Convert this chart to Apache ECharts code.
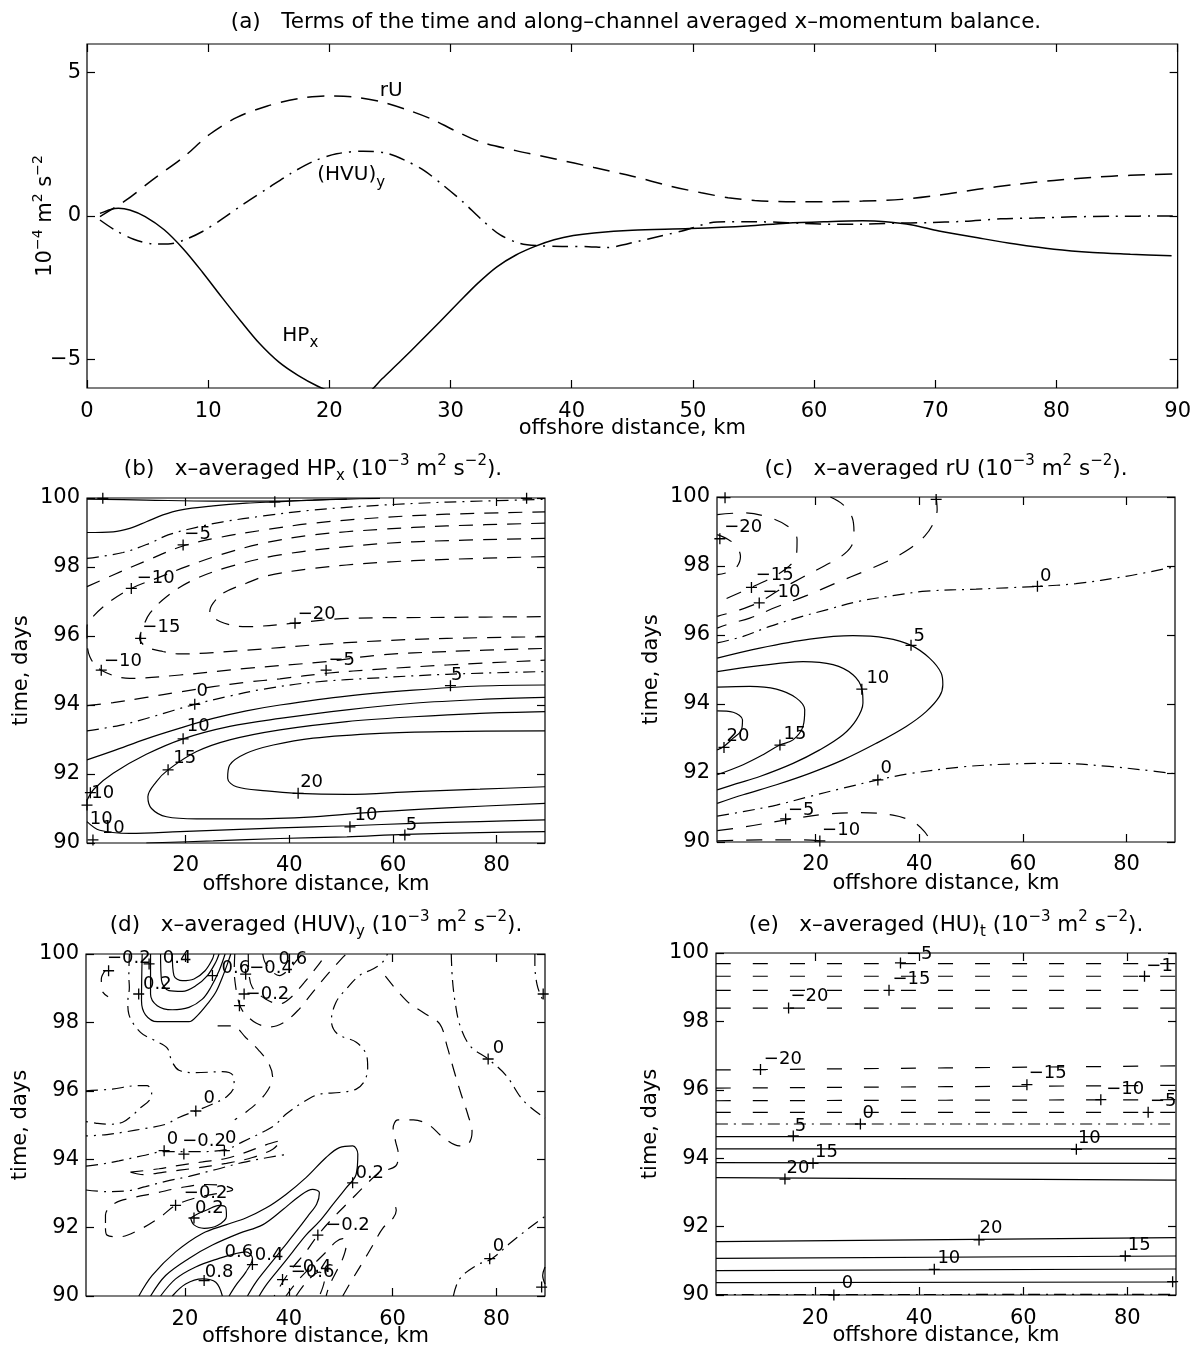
<!DOCTYPE html>
<html>
<head>
<meta charset="utf-8">
<script src="https://cdn.jsdelivr.net/npm/echarts@6/dist/echarts.min.js"></script>
<style>
  html, body { margin: 0; padding: 0; background: #fff; }
  #chart { width: 1194px; height: 1349px; }
</style>
</head>
<body>
<div id="chart"></div>
<script>
// ---------- (a) cross-channel profiles: [offshore km, 1e-4 m^2 s^-2] ----------
const rU = [[1.07,-0.02],[3.22,0.55],[5.43,1.27],[7.95,2.05],[10.16,2.86],[12.37,3.44],[14.89,3.84],[17.41,4.09],[19.62,4.19],[21.83,4.16],[24.04,4.01],[26.25,3.73],[28.45,3.38],[30.35,2.98],[32.56,2.57],[35.39,2.28],[38.55,2.0],[41.84,1.69],[45.0,1.39],[48.16,1.04],[50.7,0.81],[52.9,0.64],[55.1,0.54],[57.7,0.50],[60.8,0.50],[64.0,0.52],[67.2,0.58],[70.3,0.73],[73.5,0.93],[76.6,1.10],[79.8,1.24],[83.0,1.35],[86.1,1.42],[89.6,1.47]];
const hvuY = [[1.07,-0.14],[2.27,-0.48],[3.85,-0.81],[5.43,-0.97],[6.69,-0.98],[7.95,-0.85],[9.53,-0.54],[11.1,-0.12],[13.0,0.44],[14.9,0.96],[16.8,1.48],[18.7,1.91],[20.6,2.17],[22.8,2.26],[24.7,2.19],[26.25,1.94],[27.8,1.59],[29.4,1.07],[31.0,0.50],[32.6,-0.14],[34.1,-0.66],[35.7,-0.95],[37.3,-1.04],[39.2,-1.06],[41.4,-1.07],[42.8,-1.10],[45.6,-0.87],[49.1,-0.52],[52.0,-0.21],[55.1,-0.20],[60.5,-0.28],[63.7,-0.29],[66.5,-0.25],[69.4,-0.23],[72.2,-0.19],[75.4,-0.10],[78.2,-0.07],[81.4,-0.03],[84.6,-0.01],[89.6,0.0]];
const hpX = [[1.07,0.09],[1.96,0.23],[2.59,0.27],[3.53,0.21],[4.8,-0.02],[6.37,-0.48],[7.95,-1.15],[9.53,-1.96],[11.1,-2.82],[12.68,-3.66],[14.26,-4.46],[15.84,-5.10],[17.41,-5.56],[19.0,-5.93],[20.25,-6.14],[21.83,-6.31],[23.1,-6.2],[24.35,-5.68],[25.9,-5.05],[27.5,-4.38],[29.1,-3.70],[30.66,-3.02],[32.24,-2.35],[33.8,-1.78],[35.4,-1.36],[36.97,-1.06],[38.55,-0.83],[40.13,-0.68],[41.84,-0.59],[45.0,-0.50],[49.75,-0.44],[54.5,-0.35],[57.7,-0.25],[60.8,-0.20],[64.0,-0.17],[65.9,-0.20],[68.1,-0.31],[70.3,-0.52],[73.5,-0.76],[76.6,-0.98],[79.8,-1.16],[83.0,-1.27],[86.1,-1.33],[89.5,-1.39]];
const curveNames = [['{b|rU}', 25.1, 4.36], ['{b|(HVU)}{s|y}', 21.8, 1.42], ['{b|HP}{s|x}', 17.6, -4.18]];

// ---------- (b) x-averaged HPx, contours [level, [[km, day], ...]] ----------
const hpxContours = [
  [10, [[0.95,99.97],[12.4,99.94],[25.3,99.91],[37.2,99.91],[44.6,99.94],[51.1,99.97]]],
  [5, [[0.95,99.0],[6.0,99.02],[9.2,99.12],[12.4,99.31],[15.6,99.51],[18.9,99.65],[25.3,99.77],[31.7,99.85],[37.5,99.89],[44.6,99.94],[51.1,99.97],[57.5,99.99]]],
  [0, [[0.95,98.25],[7.9,98.42],[13.1,98.69],[16.6,98.93],[22.1,99.15],[27.2,99.31],[35.0,99.48],[44.6,99.65],[57.5,99.79],[70.4,99.88],[89.35,99.96]]],
  [-5, [[0.95,97.43],[6.0,97.77],[12.4,98.18],[19.5,98.61],[26.6,98.86],[35.0,99.07],[44.6,99.27],[57.5,99.43],[70.4,99.53],[89.35,99.60]]],
  [-10, [[89.35,99.27],[70.4,99.19],[57.5,99.09],[44.6,98.93],[35.0,98.69],[26.6,98.35],[20.1,98.01],[14.35,97.67],[9.5,97.38],[5.3,96.99],[2.1,96.56],[0.95,96.27],[0.95,95.93],[1.5,95.40],[3.7,95.01],[9.2,94.77],[18.9,94.87],[31.7,95.06],[47.2,95.26],[57.5,95.45],[70.4,95.55],[89.35,95.64]]],
  [-15, [[89.35,98.83],[63.9,98.73],[51.1,98.59],[38.2,98.35],[28.5,98.01],[21.4,97.62],[16.3,97.14],[13.1,96.66],[11.8,96.27],[11.1,95.93],[12.4,95.69],[15.6,95.55],[18.9,95.48],[31.7,95.59],[44.6,95.74],[57.5,95.86],[70.4,95.93],[89.35,95.98]]],
  [-20, [[89.35,98.30],[70.4,98.22],[57.5,98.13],[44.6,97.96],[35.6,97.74],[31.7,97.53],[27.2,97.24],[25.3,96.95],[24.65,96.71],[26.6,96.42],[31.7,96.27],[40.75,96.37],[51.1,96.51],[70.4,96.54],[89.35,96.56]]],
  [-5, [[0.95,93.98],[6.0,94.07],[12.4,94.22],[18.9,94.38],[25.3,94.53],[31.7,94.66],[38.2,94.76],[47.2,94.92],[57.5,95.04],[70.4,95.16],[89.35,95.30]]],
  [0, [[0.95,93.25],[7.3,93.41],[12.4,93.61],[17.6,93.84],[21.75,94.02],[28.5,94.26],[35.0,94.46],[44.6,94.66],[57.5,94.79],[70.4,94.89],[89.35,94.97]]],
  [5, [[0.95,92.41],[6.0,92.67],[12.4,93.02],[18.9,93.33],[25.3,93.61],[31.7,93.83],[38.2,94.0],[51.1,94.26],[63.9,94.43],[76.8,94.55],[89.35,94.58]]],
  [10, [[0.95,91.24],[2.4,91.58],[6.0,92.02],[12.4,92.57],[19.5,93.02],[28.5,93.38],[38.2,93.61],[51.1,93.86],[63.9,94.05],[76.8,94.16],[89.35,94.22]]],
  [15, [[89.35,93.81],[76.8,93.76],[63.9,93.66],[51.1,93.52],[38.2,93.28],[28.5,92.99],[22.1,92.65],[16.6,92.12],[14.35,91.78],[12.7,91.34],[13.4,91.0],[16.3,90.76],[22.1,90.70],[31.7,90.70],[44.6,90.76],[57.5,90.91],[70.4,91.02],[89.35,91.15]]],
  [20, [[89.35,93.25],[70.4,93.23],[57.5,93.18],[44.6,93.04],[36.9,92.84],[31.7,92.60],[28.5,92.26],[28.1,91.88],[29.8,91.63],[35.6,91.51],[41.4,91.44],[51.1,91.41],[63.9,91.49],[76.8,91.56],[89.35,91.63]]],
  [10, [[0.95,90.62],[3.4,90.37],[9.2,90.28],[18.9,90.33],[31.7,90.40],[44.6,90.47],[51.7,90.50],[63.9,90.57],[76.8,90.62],[89.35,90.67]]],
  [5, [[12.4,90.0],[25.3,90.06],[38.2,90.13],[51.1,90.18],[62.3,90.25],[76.8,90.30],[89.35,90.33]]]
];
const hpxText = [['−5',22.3,98.95],['−10',14.2,97.67],['−15',15.3,96.25],['−20',45.3,96.64],['−10',7.9,95.26],['−5',50.1,95.30],['0',23.2,94.39],['5',72.3,94.87],['10',22.4,93.37],['15',19.8,92.45],['20',44.3,91.76],['10',54.8,90.79],['5',63.6,90.52],['10',4.0,91.44],['10',3.7,90.70],['10',6.0,90.42]];
const hpxMarks = [[19.5,98.64],[9.5,97.38],[11.3,95.93],[41.1,96.37],[3.7,95.01],[47.1,95.01],[4.0,99.99],[37.2,99.89],[85.8,99.99],[21.75,94.02],[71.1,94.56],[19.5,93.02],[16.6,92.12],[41.7,91.44],[51.7,90.47],[62.3,90.23],[1.6,91.46],[0.95,91.1],[2.1,90.09]];

// ---------- (c) x-averaged rU ----------
const ruContours = [
  [-20, [[0.99,98.91],[3.11,98.77],[4.71,98.57],[5.48,98.28],[4.84,97.99],[3.11,97.82],[0.99,97.75]]],
  [-15, [[0.99,99.49],[6.0,99.54],[11.14,99.40],[14.99,99.11],[16.40,98.77],[16.27,98.28],[14.67,97.97],[11.78,97.68],[7.60,97.38],[3.43,97.10],[0.99,96.93]]],
  [-10, [[22.83,100.0],[25.27,99.78],[27.06,99.40],[27.39,98.96],[26.87,98.57],[24.94,98.28],[21.73,98.01],[17.56,97.68],[13.06,97.31],[9.08,96.95],[5.36,96.73],[0.99,96.54]]],
  [-5, [[43.25,100.0],[43.44,99.64],[42.74,99.25],[41.0,98.86],[38.11,98.50],[34.26,98.17],[29.44,97.85],[23.98,97.51],[18.2,97.14],[12.42,96.81],[7.28,96.49],[3.43,96.33],[0.99,96.20]]],
  [0, [[0.99,95.77],[6.0,95.96],[11.14,96.25],[16.27,96.49],[22.06,96.73],[28.48,96.98],[34.9,97.14],[41.32,97.27],[50.96,97.33],[62.84,97.41],[70.23,97.49],[79.86,97.70],[89.35,97.98]]],
  [5, [[0.99,95.33],[9.21,95.62],[18.84,95.88],[27.19,95.98],[33.62,95.91],[38.43,95.70],[41.97,95.33],[44.21,94.90],[44.54,94.56],[43.89,94.22],[41.32,93.78],[37.47,93.35],[31.69,92.86],[25.27,92.38],[18.84,91.99],[12.42,91.66],[6.0,91.37],[0.99,91.12]]],
  [10, [[0.99,94.94],[9.21,95.11],[17.56,95.23],[23.34,95.14],[27.19,94.85],[28.93,94.43],[29.12,94.03],[27.84,93.54],[25.27,93.11],[20.77,92.67],[15.63,92.28],[9.21,91.90],[4.71,91.69],[0.99,91.51]]],
  [15, [[0.99,94.49],[7.28,94.51],[12.42,94.43],[16.27,94.17],[17.88,93.83],[17.56,93.35],[15.63,92.96],[13.06,92.81],[9.85,92.53],[6.0,92.24],[0.99,91.95]]],
  [20, [[0.99,93.80],[4.07,93.76],[5.87,93.54],[5.68,93.25],[4.07,93.01],[2.27,92.77],[0.99,92.67]]],
  [0, [[0.99,90.75],[6.0,90.88],[12.42,91.07],[18.84,91.32],[25.27,91.56],[32.01,91.80],[38.11,91.98],[47.75,92.17],[57.38,92.26],[67.01,92.28],[76.65,92.19],[83.07,92.09],[89.35,91.98]]],
  [-5, [[0.99,90.33],[6.0,90.43],[14.22,90.64],[22.06,90.81],[28.48,90.85],[34.9,90.78],[38.75,90.59],[41.0,90.30],[42.29,90.0]]],
  [-10, [[0.99,90.03],[9.21,90.06],[17.56,90.06],[20.77,90.03]]]
];
const ruText = [['−20',6.0,99.11],['−15',12.1,97.72],['−10',13.4,97.24],['0',64.4,97.70],['5',40.0,95.96],['10',32.0,94.75],['15',16.0,93.11],['20',5.0,93.06],['0',33.6,92.14],['−5',17.2,90.93],['−10',24.9,90.35]];
const ruMarks = [[1.5,98.79],[7.6,97.38],[9.1,96.93],[62.8,97.41],[38.4,95.70],[28.9,94.43],[13.1,92.81],[2.3,92.74],[32.0,91.80],[14.2,90.67],[20.8,90.03],[43.25,99.93],[2.5,99.98]];

// ---------- (d) x-averaged (HUV)y ----------
const huvContours = [
  [0.2, [[11.77,100.0],[11.64,98.63],[12.41,98.22],[14.67,98.02],[20.78,98.02],[22.4,98.20],[24.33,98.54],[25.94,98.88],[27.22,99.32],[28.19,99.71],[28.83,100.0]]],
  [0.4, [[13.38,100],[13.38,98.83],[14.67,98.49],[17.57,98.37],[20.78,98.44],[23.36,98.68],[24.97,99.02],[26.58,99.51],[27.74,100.0]]],
  [0.6, [[15.31,100],[15.5,99.22],[16.92,98.93],[19.5,98.91],[22.07,99.07],[24.33,99.37],[25.94,99.76],[26.58,100]]],
  [0.8, [[17.57,100],[17.89,99.37],[19.5,99.22],[21.75,99.27],[23.88,99.51],[25.3,99.85],[25.6,100]]],
  [-0.2, [[4.7,99.53],[3.9,99.27],[4.04,98.93],[5.2,98.75]]],
  [0, [[9.3,100],[9.2,99.34],[9.3,99.02],[9.0,98.6],[9.2,98.24],[11.45,97.71],[14.35,97.46],[16.6,97.25],[17.44,96.88],[18.85,96.6],[22.07,96.53],[27.22,96.56],[29.3,96.44],[29.48,96.15],[28.19,95.85],[25.6,95.63],[22.07,95.41],[18.85,95.22],[16.28,95.02],[12.4,94.9],[8.55,94.8],[5.0,94.72],[0.95,94.68]]],
  [0, [[0.95,96.0],[6.0,96.05],[10.8,96.15],[12.7,96.15],[13.6,95.95],[13.1,95.71],[11.5,95.51],[9.8,95.27],[8.0,95.08],[5.5,95.02],[3.0,95.05],[0.95,95.1]]],
  [-0.2, [[26.3,97.9],[29.2,97.9],[31.7,97.56],[34.3,97.17],[36.2,96.78],[36.9,96.39],[35.9,96.0],[34.0,95.66],[31.7,95.37],[29.6,95.15]]],
  [-0.2, [[29.6,100],[29.5,99.5],[29.8,99.02],[30.3,98.63],[31.1,98.34],[33.7,97.98],[36.6,97.87],[39.1,98.0],[41.7,98.34],[44.6,98.88],[47.5,99.41],[50.4,99.9],[51.1,100]]],
  [-0.4, [[32.2,100],[32.3,99.5],[33,99.02],[35.6,98.68],[38.2,98.54],[40.4,98.73],[43,99.17],[45.6,99.66],[47.2,100]]],
  [-0.6, [[35.0,100],[35.6,99.71],[38.2,99.37],[40.1,99.56],[42.0,99.9],[42.7,100]]],
  [0, [[0.95,93.8],[3.7,93.85],[7.3,93.95],[11.8,94.1],[16,94.22],[22,94.22],[27.6,94.27],[31,94.5],[35.6,94.84],[37.5,95.02],[39.5,95.32],[42.7,95.66],[45.9,95.9],[49.8,95.95],[53,96.05],[54.6,96.29],[55.2,96.68],[54.9,97.07],[53,97.42],[49.4,97.66],[48.2,98.05],[49.1,98.59],[51.1,98.98],[53.6,99.37],[56.2,99.56],[58,99.75],[59,100]]],
  [-0.2, [[58.6,99.35],[62.7,98.63],[65.9,98.29],[69.1,97.95],[70.5,97.3],[71.8,96.6],[73.2,95.9],[74.5,95.3],[75.3,94.8],[74.6,94.45],[72.9,94.39],[69.7,94.64],[67,95.0],[64,95.15],[61,95.15],[60.1,94.9],[60.6,94.5],[61.1,94.15],[60.6,93.8],[57.5,93.61],[54.9,93.26],[51.7,92.77],[48.5,92.28],[45.6,91.78],[43.3,91.29],[40.1,90.7],[37.2,90.0]]],
  [0, [[71.3,100],[71.5,99.3],[72,98.63],[73,97.9],[75,97.3],[78.4,96.93],[81.9,96.44],[85.2,95.71],[89.35,95.2]]],
  [0, [[87.4,100],[87.4,99.71],[87.8,99.12],[88.7,98.73],[89.35,98.59]]],
  [0.2, [[11.13,90.0],[13.7,90.6],[18.21,91.29],[23.36,91.83],[27.87,92.08],[31.73,92.28],[35.6,92.57],[39.46,92.97],[43.32,93.46],[47.18,94.05],[49.76,94.34],[52.33,94.39],[53.3,94.15],[52.98,93.56],[51.05,93.16],[48.47,92.67],[45.9,92.18],[43.32,91.78],[40.75,91.29],[38.17,90.80],[35.6,90.31],[34.3,90.0]]],
  [0.4, [[13.39,90.0],[16.28,90.6],[20.78,91.1],[25.3,91.49],[30.44,91.83],[34.95,92.08],[38.82,92.52],[42.04,92.92],[44.61,93.12],[45.9,93.02],[45.38,92.69],[43.65,92.33],[41.39,91.88],[38.82,91.39],[36.24,90.9],[33.66,90.4],[32.05,90.0]]],
  [0.6, [[15.31,90.0],[18.21,90.5],[22.07,90.85],[26.58,91.1],[29.8,91.24],[31.73,91.29],[33.02,91.1],[31.73,90.7],[29.8,90.31],[28.51,90.0]]],
  [0.8, [[17.57,90.0],[20.14,90.35],[23.36,90.5],[25.94,90.4],[27.22,90.0]]],
  [0.2, [[21.1,92.28],[21.75,92.08],[23.7,91.98],[26.26,92.06],[28.0,92.33],[27.87,92.59],[26.58,92.65],[24.33,92.52],[22.07,92.37],[21.1,92.28]]],
  [-0.4, [[39.46,90.0],[42.04,90.5],[44.61,90.9],[47.2,91.29],[49.12,91.59],[50.41,91.68],[51.05,91.49],[50.41,91.1],[49.12,90.7],[47.84,90.31],[47.2,90.0]]],
  [-0.6, [[41.4,90.0],[43.65,90.45],[45.9,90.7],[46.9,90.5],[45.9,90.0]]],
  [-0.2, [[50.4,90.0],[52.3,90.5],[54.3,91.0],[56.2,91.49],[58.1,91.98],[60.1,92.28],[60.7,92.5],[60.2,92.75]]],
  [-0.2, [[4.7,91.98],[5.0,91.78],[7.3,91.73],[11.1,91.93],[15.0,92.28],[18.2,92.65],[22.1,92.87],[26.6,93.01],[29.2,93.11],[27.9,93.21],[24.0,93.26],[18.9,93.16],[14.4,93.01],[9.84,92.87],[6.6,92.72],[4.7,92.37],[4.7,91.98]]],
  [-0.2, [[9.5,93.62],[15,93.72],[18.9,93.82],[23.4,93.92],[27.9,94.02],[31.7,94.2],[35.6,94.42],[38.5,94.55],[37,94.3],[33,94.05],[28,93.88],[22,93.74],[16,93.62],[12,93.55],[9.5,93.62]]],
  [0, [[0.95,93.1],[5,93.05],[9.2,93.08],[12.4,93.2],[16.3,93.35],[20.8,93.5],[26,93.7],[31,93.9],[36,94.05],[40,94.15]]],
  [0, [[71.7,90.0],[72.9,90.5],[76.2,90.9],[79.1,91.09],[82.6,91.54],[85.8,91.93],[89.35,92.33]]],
  [0.2, [[89.35,90.85],[88.9,90.6],[89.35,90.35]]]
];
const huvText = [['−0.2',9.2,99.88],['0.4',18.5,99.88],['0.6',29.8,99.59],['−0.4',36.6,99.59],['0.6',40.8,99.85],['0.2',14.7,99.10],['−0.2',35.9,98.83],['0',24.7,95.79],['0',80.4,97.25],['0',17.6,94.59],['−0.2',23.7,94.52],['0',28.8,94.62],['0.2',55.6,93.6],['−0.2',24.0,92.99],['0.2',24.7,92.57],['−0.2',51.4,92.08],['0.6',30.4,91.29],['0.4',36.2,91.19],['−0.4',44.0,90.85],['−0.6',44.6,90.68],['0.8',26.6,90.70],['0',80.4,91.44]];
const huvMarks = [[5.3,99.51],[13.1,99.71],[25.3,99.37],[31.7,99.41],[11.1,98.83],[31.4,98.83],[30.5,98.49],[22.1,95.41],[78.4,96.93],[89.0,98.83],[16.0,94.25],[19.8,94.15],[27.6,94.25],[52.3,93.31],[18.2,92.65],[21.75,92.28],[45.6,91.78],[33.0,90.92],[38.8,90.48],[23.7,90.45],[78.7,91.09],[88.7,90.26]];

// ---------- (e) x-averaged (HU)t ----------
const hutContours = [
  [-5, [[0.95,99.69],[89.35,99.69]]],
  [-10, [[0.95,99.32],[89.35,99.32]]],
  [-15, [[0.95,98.91],[89.35,98.91]]],
  [-20, [[0.95,98.39],[89.35,98.39]]],
  [-20, [[0.95,96.58],[89.35,96.70]]],
  [-15, [[0.95,96.05],[89.35,96.13]]],
  [-10, [[0.95,95.68],[89.35,95.71]]],
  [-5, [[0.95,95.34],[89.35,95.34]]],
  [0, [[0.95,95.0],[89.35,95.0]]],
  [5, [[0.95,94.63],[89.35,94.63]]],
  [10, [[0.95,94.27],[89.35,94.27]]],
  [15, [[0.95,93.87],[89.35,93.85]]],
  [20, [[0.95,93.43],[89.35,93.36]]],
  [20, [[0.95,91.56],[89.35,91.68]]],
  [15, [[0.95,91.07],[89.35,91.14]]],
  [10, [[0.95,90.71],[89.35,90.76]]],
  [5, [[0.95,90.36],[89.35,90.38]]],
  [0, [[0.95,90.01],[89.35,90.02]]]
];
const hutText = [['−5',40.0,99.95],['−15',38.5,99.22],['−20',18.9,98.73],['−1',86.2,99.61],['−20',13.8,96.88],['−15',64.7,96.47],['−10',79.6,96.02],['−5',86.9,95.66],['0',30.2,95.32],['5',17.2,94.93],['10',72.7,94.59],['15',22.2,94.18],['20',16.7,93.71],['20',53.8,91.95],['15',82.3,91.46],['10',45.7,91.07],['0',26.2,90.34]];
const hutMarks = [[36.4,99.71],[34.2,98.91],[14.9,98.39],[83.3,99.32],[9.5,96.59],[60.7,96.15],[74.9,95.71],[84.0,95.34],[28.7,95.0],[15.8,94.65],[70.2,94.26],[19.6,93.85],[14.2,93.39],[51.5,91.61],[79.6,91.14],[42.9,90.75],[88.7,90.39],[23.6,90.0]];

// ---------- axis ticks ----------
const valTicksA = [-5, 0, 5];
const kmTicks = [20, 40, 60, 80];

// ---------- drawing ----------
const FONT = 'DejaVu Sans';
const INK = '#000';
const DASHDOT = [12, 6, 2, 6];

const grids = [
  { left: 87, top: 44, width: 1091, height: 344 },
  { left: 87, top: 498, width: 458, height: 345 },
  { left: 717, top: 497, width: 458, height: 345 },
  { left: 86, top: 954, width: 459, height: 342 },
  { left: 716, top: 953, width: 460, height: 342 }
];

const supRich = {
  t: { fontSize: 21, fontFamily: FONT, color: INK, lineHeight: 30 },
  sup: { fontSize: 14, fontFamily: FONT, color: INK, lineHeight: 14, verticalAlign: 'top' },
  sub: { fontSize: 14, fontFamily: FONT, color: INK, lineHeight: 14, verticalAlign: 'bottom' }
};

const xAxes = [], yAxes = [];
const minus = v => String(v).replace('-', '−');

function addAxes(gi, xr, yr) {
  const tick = { show: true, inside: true, length: 8, lineStyle: { color: INK, width: 1.2 } };
  const lbl = { color: INK, fontFamily: FONT, fontSize: 21, formatter: minus };
  const line = { show: false, onZero: false };
  const xBase = { type: 'value', gridIndex: gi, min: xr.min, max: xr.max, axisLine: line, splitLine: { show: false } };
  if (xr.interval) xBase.interval = xr.interval;
  const yBase = { type: 'value', gridIndex: gi, min: yr.min, max: yr.max, axisLine: line, splitLine: { show: false } };
  if (yr.interval) yBase.interval = yr.interval;
  const xTick = Object.assign({}, tick, xr.ticks ? { customValues: xr.ticks } : {});
  const yTick = Object.assign({}, tick, yr.ticks ? { customValues: yr.ticks } : {});
  xAxes.push(Object.assign({}, xBase, {
    position: 'bottom', axisTick: xTick,
    axisLabel: Object.assign({}, lbl, { margin: xr.margin }, xr.ticks ? { customValues: xr.ticks } : {}),
    name: 'offshore distance, km', nameLocation: 'middle', nameGap: xr.gap, nameMoveOverlap: false,
    nameTextStyle: { color: INK, fontFamily: FONT, fontSize: 21 }
  }));
  xAxes.push(Object.assign({}, xBase, { position: 'top', axisTick: xTick, axisLabel: { show: false } }));
  yAxes.push(Object.assign({}, yBase, {
    position: 'left', axisTick: yTick,
    axisLabel: Object.assign({}, lbl, { margin: yr.margin }, yr.ticks ? { customValues: yr.ticks } : {}),
    name: yr.name, nameLocation: 'middle', nameGap: yr.gap, nameRotate: 90, nameMoveOverlap: false,
    nameTextStyle: { color: INK, fontFamily: FONT, fontSize: 21, rich: supRich }
  }));
  yAxes.push(Object.assign({}, yBase, { position: 'right', axisTick: yTick, axisLabel: { show: false } }));
}

addAxes(0, { min: 0, max: 90, interval: 10, margin: 13, gap: 30 },
           { min: -6, max: 6, ticks: valTicksA, margin: 6, gap: 26,
             name: '{t|10}{sup|−4}{t| m}{sup|2}{t| s}{sup|−2}' });
const kmRange = { min: 0.95, max: 89.35, ticks: kmTicks };
const dayRange = { min: 90, max: 100, interval: 2, margin: 7, gap: 55, name: 'time, days' };
addAxes(1, Object.assign({ gap: 31, margin: 12 }, kmRange), dayRange);
addAxes(2, Object.assign({ gap: 31, margin: 12 }, kmRange), dayRange);
addAxes(3, Object.assign({ gap: 30, margin: 13 }, kmRange), dayRange);
addAxes(4, Object.assign({ gap: 30, margin: 13 }, kmRange), dayRange);

const series = [];

function profile(data, type) {
  series.push({
    type: 'line', xAxisIndex: 0, yAxisIndex: 0, data, symbol: 'none', smooth: 0.3,
    silent: true, animation: false, clip: true,
    lineStyle: { color: INK, width: 1.5, type, cap: 'butt' }
  });
}
profile(rU, [17, 10]);
profile(hvuY, [16, 7, 2, 7]);
profile(hpX, 'solid');
series.push({
  type: 'scatter', xAxisIndex: 0, yAxisIndex: 0, symbolSize: 1, silent: true, animation: false,
  itemStyle: { color: 'rgba(0,0,0,0)', opacity: 1 },
  data: curveNames.map(c => ({ name: c[0], value: [c[1], c[2]] })),
  label: { show: true, position: 'inside', formatter: '{b}', color: INK, opacity: 1, textBorderWidth: 0,
    rich: { b: { fontSize: 20, fontFamily: FONT, color: INK, lineHeight: 30 },
            s: { fontSize: 15, fontFamily: FONT, color: INK, lineHeight: 15, verticalAlign: 'bottom' } } }
});

function contours(list, gi, dash) {
  list.forEach(([v, pts]) => {
    series.push({
      type: 'line', xAxisIndex: gi * 2, yAxisIndex: gi * 2, data: pts, symbol: 'none',
      smooth: 0.35, silent: true, animation: false, clip: true,
      lineStyle: { color: INK, width: 1.2, cap: 'butt', type: v < 0 ? dash : (v === 0 ? DASHDOT : 'solid') }
    });
  });
}
function contourLabels(texts, marks, gi) {
  series.push({
    type: 'scatter', xAxisIndex: gi * 2, yAxisIndex: gi * 2, silent: true, animation: false,
    symbol: 'path://M0,5L10,5M5,0L5,10', symbolSize: 11,
    itemStyle: { color: 'rgba(0,0,0,0)', borderColor: INK, borderWidth: 1.3, opacity: 1 },
    data: marks
  });
  series.push({
    type: 'scatter', xAxisIndex: gi * 2, yAxisIndex: gi * 2, silent: true, animation: false,
    symbolSize: 1, itemStyle: { color: 'rgba(0,0,0,0)', opacity: 1 },
    data: texts.map(t => ({ name: t[0], value: [t[1], t[2]] })),
    label: { show: true, position: 'inside', formatter: '{b}', color: INK, opacity: 1, textBorderWidth: 0,
             fontFamily: FONT, fontSize: 18 },
    labelLayout: { hideOverlap: false }
  });
}

contours(hpxContours, 1, [14, 10]);
contourLabels(hpxText, hpxMarks, 1);
contours(ruContours, 2, [16, 13]);
contourLabels(ruText, ruMarks, 2);
contours(huvContours, 3, [13, 10]);
contourLabels(huvText, huvMarks, 3);
contours(hutContours, 4, [15, 22]);
contourLabels(hutText, hutMarks, 4);

const titleRich = {
  t: { fontSize: 21.5, fontFamily: FONT, fill: INK, lineHeight: 30 },
  sup: { fontSize: 15, fontFamily: FONT, fill: INK, lineHeight: 14, verticalAlign: 'top' },
  sub: { fontSize: 15, fontFamily: FONT, fill: INK, lineHeight: 14, verticalAlign: 'bottom' }
};
const unit = '{t| (10}{sup|−3}{t| m}{sup|2}{t| s}{sup|−2}{t|).}';
const titles = [
  ['{t|(a)   Terms of the time and along–channel averaged x–momentum balance.}', 636, 22],
  ['{t|(b)   x–averaged HP}{sub|x}' + unit, 313, 469],
  ['{t|(c)   x–averaged rU}' + unit, 946, 469],
  ['{t|(d)   x–averaged (HUV)}{sub|y}' + unit, 316, 925],
  ['{t|(e)   x–averaged (HU)}{sub|t}' + unit, 946, 925]
];

const chart = echarts.init(document.getElementById('chart'), null, { renderer: 'canvas' });
chart.setOption({
  backgroundColor: '#fff',
  animation: false,
  grid: grids.map(g => Object.assign({ show: true, borderColor: INK, borderWidth: 1.2, backgroundColor: 'rgba(0,0,0,0)' }, g)),
  xAxis: xAxes,
  yAxis: yAxes,
  series,
  graphic: titles.map(t => ({
    type: 'text', x: t[1], y: t[2], silent: true,
    style: { text: t[0], rich: titleRich, fill: INK, font: '21.5px ' + FONT, align: 'center', verticalAlign: 'middle' }
  }))
});
</script>
</body>
</html>
